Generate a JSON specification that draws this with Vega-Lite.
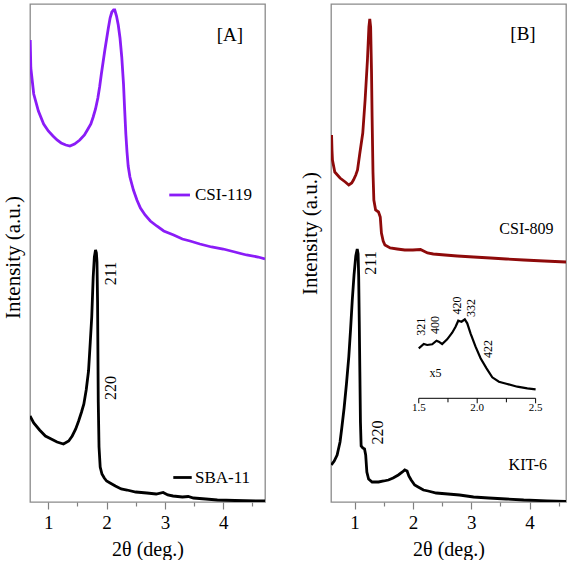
{
  "$schema": "https://vega.github.io/schema/vega-lite/v6.json",
  "padding": {"left": 1, "top": 3, "right": 0, "bottom": 0},
  "bounds": "flush",
  "spacing": 66,
  "config": {
    "view": {"stroke": "#8a8a8a", "strokeWidth": 1.3},
    "font": "Liberation Serif",
    "axis": {"grid": false, "domain": false, "labelFont": "Liberation Serif", "titleFont": "Liberation Serif", "labelColor": "#000", "titleColor": "#000", "titleFontWeight": "normal", "labelFontSize": 19, "titleFontSize": 20, "tickColor": "#808080", "tickWidth": 1.2},
    "text": {"font": "Liberation Serif", "color": "#000"}
  },
  "resolve": {"scale": {"color": "independent"}},
  "datasets": {
    "a_curves": [
      {"series": "CSI-119", "x": 0.69, "v": 462}, {"series": "CSI-119", "x": 0.70, "v": 434}, {"series": "CSI-119", "x": 0.75, "v": 408}, {"series": "CSI-119", "x": 0.83, "v": 391}, {"series": "CSI-119", "x": 0.92, "v": 378}, {"series": "CSI-119", "x": 1.00, "v": 371}, {"series": "CSI-119", "x": 1.08, "v": 366}, {"series": "CSI-119", "x": 1.15, "v": 362}, {"series": "CSI-119", "x": 1.22, "v": 359}, {"series": "CSI-119", "x": 1.30, "v": 357}, {"series": "CSI-119", "x": 1.37, "v": 356}, {"series": "CSI-119", "x": 1.45, "v": 358}, {"series": "CSI-119", "x": 1.54, "v": 362}, {"series": "CSI-119", "x": 1.62, "v": 367}, {"series": "CSI-119", "x": 1.68, "v": 373}, {"series": "CSI-119", "x": 1.73, "v": 378}, {"series": "CSI-119", "x": 1.77, "v": 385}, {"series": "CSI-119", "x": 1.81, "v": 393}, {"series": "CSI-119", "x": 1.85, "v": 404}, {"series": "CSI-119", "x": 1.88, "v": 415}, {"series": "CSI-119", "x": 1.91, "v": 428}, {"series": "CSI-119", "x": 1.94, "v": 440}, {"series": "CSI-119", "x": 1.97, "v": 452}, {"series": "CSI-119", "x": 2.00, "v": 463}, {"series": "CSI-119", "x": 2.03, "v": 474}, {"series": "CSI-119", "x": 2.06, "v": 484}, {"series": "CSI-119", "x": 2.09, "v": 490}, {"series": "CSI-119", "x": 2.12, "v": 492}, {"series": "CSI-119", "x": 2.14, "v": 492}, {"series": "CSI-119", "x": 2.17, "v": 486}, {"series": "CSI-119", "x": 2.20, "v": 477}, {"series": "CSI-119", "x": 2.23, "v": 464}, {"series": "CSI-119", "x": 2.26, "v": 445}, {"series": "CSI-119", "x": 2.29, "v": 418}, {"series": "CSI-119", "x": 2.31, "v": 392}, {"series": "CSI-119", "x": 2.33, "v": 368}, {"series": "CSI-119", "x": 2.35, "v": 350}, {"series": "CSI-119", "x": 2.37, "v": 336}, {"series": "CSI-119", "x": 2.40, "v": 325}, {"series": "CSI-119", "x": 2.46, "v": 312}, {"series": "CSI-119", "x": 2.52, "v": 302}, {"series": "CSI-119", "x": 2.58, "v": 294}, {"series": "CSI-119", "x": 2.66, "v": 287}, {"series": "CSI-119", "x": 2.75, "v": 281}, {"series": "CSI-119", "x": 2.86, "v": 276}, {"series": "CSI-119", "x": 2.98, "v": 271}, {"series": "CSI-119", "x": 3.15, "v": 267}, {"series": "CSI-119", "x": 3.30, "v": 263}, {"series": "CSI-119", "x": 3.43, "v": 261}, {"series": "CSI-119", "x": 3.60, "v": 258}, {"series": "CSI-119", "x": 3.80, "v": 255}, {"series": "CSI-119", "x": 4.00, "v": 253}, {"series": "CSI-119", "x": 4.20, "v": 250}, {"series": "CSI-119", "x": 4.40, "v": 247}, {"series": "CSI-119", "x": 4.60, "v": 245}, {"series": "CSI-119", "x": 4.717, "v": 243},
      {"series": "SBA-11", "x": 0.686, "v": 86}, {"series": "SBA-11", "x": 0.75, "v": 79}, {"series": "SBA-11", "x": 0.85, "v": 72}, {"series": "SBA-11", "x": 0.95, "v": 66}, {"series": "SBA-11", "x": 1.05, "v": 63}, {"series": "SBA-11", "x": 1.15, "v": 60}, {"series": "SBA-11", "x": 1.26, "v": 58}, {"series": "SBA-11", "x": 1.35, "v": 61}, {"series": "SBA-11", "x": 1.41, "v": 66}, {"series": "SBA-11", "x": 1.47, "v": 73}, {"series": "SBA-11", "x": 1.52, "v": 81}, {"series": "SBA-11", "x": 1.57, "v": 90}, {"series": "SBA-11", "x": 1.61, "v": 98}, {"series": "SBA-11", "x": 1.65, "v": 112}, {"series": "SBA-11", "x": 1.69, "v": 131}, {"series": "SBA-11", "x": 1.72, "v": 160}, {"series": "SBA-11", "x": 1.745, "v": 185}, {"series": "SBA-11", "x": 1.77, "v": 225}, {"series": "SBA-11", "x": 1.79, "v": 245}, {"series": "SBA-11", "x": 1.81, "v": 252}, {"series": "SBA-11", "x": 1.825, "v": 249}, {"series": "SBA-11", "x": 1.835, "v": 240}, {"series": "SBA-11", "x": 1.845, "v": 200}, {"series": "SBA-11", "x": 1.857, "v": 100}, {"series": "SBA-11", "x": 1.87, "v": 55}, {"series": "SBA-11", "x": 1.89, "v": 35}, {"series": "SBA-11", "x": 1.92, "v": 28}, {"series": "SBA-11", "x": 1.96, "v": 24}, {"series": "SBA-11", "x": 2.00, "v": 21}, {"series": "SBA-11", "x": 2.06, "v": 19}, {"series": "SBA-11", "x": 2.15, "v": 16}, {"series": "SBA-11", "x": 2.25, "v": 13}, {"series": "SBA-11", "x": 2.35, "v": 12}, {"series": "SBA-11", "x": 2.50, "v": 10}, {"series": "SBA-11", "x": 2.69, "v": 9}, {"series": "SBA-11", "x": 2.85, "v": 8}, {"series": "SBA-11", "x": 2.97, "v": 9.5}, {"series": "SBA-11", "x": 3.05, "v": 7}, {"series": "SBA-11", "x": 3.14, "v": 6}, {"series": "SBA-11", "x": 3.30, "v": 5}, {"series": "SBA-11", "x": 3.40, "v": 5.5}, {"series": "SBA-11", "x": 3.49, "v": 4}, {"series": "SBA-11", "x": 3.70, "v": 3}, {"series": "SBA-11", "x": 3.90, "v": 2}, {"series": "SBA-11", "x": 4.20, "v": 1.5}, {"series": "SBA-11", "x": 4.717, "v": 1}
    ],
    "a_legend": [
      {"series": "CSI-119", "x": 3.075, "x2": 3.43, "v": 307},
      {"series": "SBA-11", "x": 3.144, "x2": 3.46, "v": 24.5}
    ],
    "a_names": [
      {"x": 3.516, "v": 307, "label": "CSI-119"},
      {"x": 3.516, "v": 24.5, "label": "SBA-11"}
    ],
    "a_panel": [{"x": 3.889, "v": 467, "label": "[A]"}],
    "a_hkl": [
      {"x": 2.075, "v": 228.5, "label": "211"},
      {"x": 2.075, "v": 114, "label": "220"}
    ],
    "b_curves": [
      {"series": "CSI-809", "x": 0.605, "v": 367}, {"series": "CSI-809", "x": 0.612, "v": 352}, {"series": "CSI-809", "x": 0.62, "v": 342}, {"series": "CSI-809", "x": 0.66, "v": 330}, {"series": "CSI-809", "x": 0.75, "v": 324}, {"series": "CSI-809", "x": 0.84, "v": 320}, {"series": "CSI-809", "x": 0.90, "v": 317}, {"series": "CSI-809", "x": 0.95, "v": 319}, {"series": "CSI-809", "x": 0.98, "v": 322}, {"series": "CSI-809", "x": 1.02, "v": 327}, {"series": "CSI-809", "x": 1.05, "v": 332}, {"series": "CSI-809", "x": 1.09, "v": 349}, {"series": "CSI-809", "x": 1.14, "v": 369}, {"series": "CSI-809", "x": 1.18, "v": 402}, {"series": "CSI-809", "x": 1.22, "v": 442}, {"series": "CSI-809", "x": 1.245, "v": 475}, {"series": "CSI-809", "x": 1.26, "v": 483}, {"series": "CSI-809", "x": 1.275, "v": 475}, {"series": "CSI-809", "x": 1.29, "v": 430}, {"series": "CSI-809", "x": 1.30, "v": 385}, {"series": "CSI-809", "x": 1.315, "v": 330}, {"series": "CSI-809", "x": 1.33, "v": 302}, {"series": "CSI-809", "x": 1.36, "v": 292}, {"series": "CSI-809", "x": 1.41, "v": 290}, {"series": "CSI-809", "x": 1.44, "v": 285}, {"series": "CSI-809", "x": 1.46, "v": 269}, {"series": "CSI-809", "x": 1.49, "v": 261}, {"series": "CSI-809", "x": 1.52, "v": 257}, {"series": "CSI-809", "x": 1.61, "v": 254}, {"series": "CSI-809", "x": 1.73, "v": 253}, {"series": "CSI-809", "x": 1.86, "v": 252}, {"series": "CSI-809", "x": 2.00, "v": 252}, {"series": "CSI-809", "x": 2.13, "v": 252.5}, {"series": "CSI-809", "x": 2.25, "v": 249}, {"series": "CSI-809", "x": 2.35, "v": 248}, {"series": "CSI-809", "x": 2.55, "v": 247}, {"series": "CSI-809", "x": 2.76, "v": 246}, {"series": "CSI-809", "x": 3.04, "v": 245}, {"series": "CSI-809", "x": 3.33, "v": 244}, {"series": "CSI-809", "x": 3.60, "v": 243}, {"series": "CSI-809", "x": 3.90, "v": 242}, {"series": "CSI-809", "x": 4.25, "v": 241}, {"series": "CSI-809", "x": 4.626, "v": 240},
      {"series": "KIT-6", "x": 0.60, "v": 37}, {"series": "KIT-6", "x": 0.65, "v": 41}, {"series": "KIT-6", "x": 0.70, "v": 47}, {"series": "KIT-6", "x": 0.75, "v": 60}, {"series": "KIT-6", "x": 0.78, "v": 74}, {"series": "KIT-6", "x": 0.82, "v": 94}, {"series": "KIT-6", "x": 0.86, "v": 118}, {"series": "KIT-6", "x": 0.90, "v": 145}, {"series": "KIT-6", "x": 0.93, "v": 172}, {"series": "KIT-6", "x": 0.96, "v": 202}, {"series": "KIT-6", "x": 0.99, "v": 227}, {"series": "KIT-6", "x": 1.02, "v": 246}, {"series": "KIT-6", "x": 1.045, "v": 253}, {"series": "KIT-6", "x": 1.06, "v": 248}, {"series": "KIT-6", "x": 1.07, "v": 225}, {"series": "KIT-6", "x": 1.08, "v": 180}, {"series": "KIT-6", "x": 1.09, "v": 130}, {"series": "KIT-6", "x": 1.10, "v": 80}, {"series": "KIT-6", "x": 1.112, "v": 56}, {"series": "KIT-6", "x": 1.14, "v": 54}, {"series": "KIT-6", "x": 1.17, "v": 53}, {"series": "KIT-6", "x": 1.19, "v": 47}, {"series": "KIT-6", "x": 1.21, "v": 30}, {"series": "KIT-6", "x": 1.24, "v": 23}, {"series": "KIT-6", "x": 1.30, "v": 20}, {"series": "KIT-6", "x": 1.41, "v": 20}, {"series": "KIT-6", "x": 1.50, "v": 21}, {"series": "KIT-6", "x": 1.58, "v": 22}, {"series": "KIT-6", "x": 1.66, "v": 24}, {"series": "KIT-6", "x": 1.75, "v": 27}, {"series": "KIT-6", "x": 1.82, "v": 30}, {"series": "KIT-6", "x": 1.86, "v": 32}, {"series": "KIT-6", "x": 1.90, "v": 31}, {"series": "KIT-6", "x": 1.93, "v": 26}, {"series": "KIT-6", "x": 1.97, "v": 22}, {"series": "KIT-6", "x": 2.03, "v": 17}, {"series": "KIT-6", "x": 2.09, "v": 15}, {"series": "KIT-6", "x": 2.18, "v": 12}, {"series": "KIT-6", "x": 2.26, "v": 11}, {"series": "KIT-6", "x": 2.40, "v": 9}, {"series": "KIT-6", "x": 2.60, "v": 8}, {"series": "KIT-6", "x": 2.80, "v": 7}, {"series": "KIT-6", "x": 3.04, "v": 5}, {"series": "KIT-6", "x": 3.30, "v": 4}, {"series": "KIT-6", "x": 3.60, "v": 3}, {"series": "KIT-6", "x": 3.90, "v": 2}, {"series": "KIT-6", "x": 4.30, "v": 1.2}, {"series": "KIT-6", "x": 4.626, "v": 0.5}
    ],
    "b_names": [
      {"x": 3.482, "v": 272.7, "label": "CSI-809"},
      {"x": 3.641, "v": 37, "label": "KIT-6"}
    ],
    "b_panel": [{"x": 3.671, "v": 468, "label": "[B]"}],
    "b_hkl": [
      {"x": 1.278, "v": 239, "label": "211"},
      {"x": 1.401, "v": 69.5, "label": "220"}
    ],
    "inset_curve": [
      {"x": 1.50, "v": 153.7}, {"x": 1.543, "v": 158}, {"x": 1.572, "v": 157}, {"x": 1.615, "v": 157.7}, {"x": 1.652, "v": 161.3}, {"x": 1.671, "v": 160.3}, {"x": 1.70, "v": 158}, {"x": 1.743, "v": 162.7}, {"x": 1.786, "v": 169.3}, {"x": 1.815, "v": 175.3}, {"x": 1.838, "v": 181.3}, {"x": 1.866, "v": 180.3}, {"x": 1.894, "v": 182.7}, {"x": 1.915, "v": 178.7}, {"x": 1.943, "v": 168.7}, {"x": 1.986, "v": 155.3}, {"x": 2.029, "v": 143.7}, {"x": 2.08, "v": 133.7}, {"x": 2.129, "v": 124.7}, {"x": 2.186, "v": 120.3}, {"x": 2.257, "v": 118}, {"x": 2.343, "v": 115.3}, {"x": 2.429, "v": 113.7}, {"x": 2.50, "v": 112.7}
    ],
    "inset_axis": [{"x": 1.5, "x2": 2.5, "v": 103.7}],
    "inset_ticks": [
      {"x": 1.5, "v": 103.7, "v2": 98.7}, {"x": 1.75, "v": 103.7, "v2": 99.7}, {"x": 2.0, "v": 103.7, "v2": 98.7}, {"x": 2.25, "v": 103.7, "v2": 99.7}, {"x": 2.5, "v": 103.7, "v2": 98.7}
    ],
    "inset_ticklabels": [
      {"x": 1.5, "v": 93.7, "label": "1.5"}, {"x": 2.0, "v": 93.7, "label": "2.0"}, {"x": 2.5, "v": 93.7, "label": "2.5"}
    ],
    "inset_hkl": [
      {"x": 1.521, "v": 175.3, "label": "321"}, {"x": 1.643, "v": 177, "label": "400"}, {"x": 1.829, "v": 196.4, "label": "420"}, {"x": 1.943, "v": 194, "label": "332"}, {"x": 2.091, "v": 153, "label": "422"}
    ],
    "inset_note": [{"x": 1.643, "v": 129, "label": "x5"}]
  },
  "hconcat": [
    {
      "width": 235,
      "height": 498,
      "encoding": {
        "x": {"field": "x", "type": "quantitative", "scale": {"domain": [0.686, 4.717], "nice": false, "zero": false}, "title": "2θ (deg.)",
              "axis": {"values": [1, 1.5, 2, 2.5, 3, 3.5, 4, 4.5], "labelExpr": "datum.value % 1 === 0 ? format(datum.value, 'd') : ''", "tickSize": {"condition": {"test": "datum.value % 1 === 0", "value": 7}, "value": 4}, "labelPadding": 4, "titlePadding": 7, "labelFont": "Liberation Serif", "titleFont": "Liberation Serif"}},
        "y": {"field": "v", "type": "quantitative", "scale": {"domain": [0, 498], "nice": false, "zero": false}, "title": "Intensity (a.u.)",
              "axis": {"labels": false, "ticks": false, "titleFontSize": 21, "titlePadding": 7, "titleY": 253, "titleFont": "Liberation Serif"}}
      },
      "layer": [
        {"data": {"name": "a_curves"}, "mark": {"type": "line", "strokeWidth": 2.8, "clip": true},
         "encoding": {"color": {"field": "series", "type": "nominal", "scale": {"domain": ["CSI-119", "SBA-11"], "range": ["#8a1cf7", "#000000"]}, "legend": null}}},
        {"data": {"name": "a_legend"}, "mark": {"type": "rule", "strokeWidth": 2.8},
         "encoding": {"x2": {"field": "x2"}, "color": {"field": "series", "type": "nominal", "scale": {"domain": ["CSI-119", "SBA-11"], "range": ["#8a1cf7", "#000000"]}, "legend": null}}},
        {"data": {"name": "a_names"}, "mark": {"type": "text", "align": "left", "baseline": "middle", "fontSize": 17, "font": "Liberation Serif"},
         "encoding": {"text": {"field": "label"}}},
        {"data": {"name": "a_panel"}, "mark": {"type": "text", "align": "left", "baseline": "middle", "fontSize": 19, "font": "Liberation Serif"},
         "encoding": {"text": {"field": "label"}}},
        {"data": {"name": "a_hkl"}, "mark": {"type": "text", "align": "center", "baseline": "middle", "fontSize": 16, "angle": 270, "font": "Liberation Serif"},
         "encoding": {"text": {"field": "label"}}}
      ]
    },
    {
      "width": 235,
      "height": 498,
      "resolve": {"scale": {"x": "independent"}},
      "layer": [
        {
          "encoding": {
            "x": {"field": "x", "type": "quantitative", "scale": {"domain": [0.595, 4.626], "nice": false, "zero": false}, "title": "2θ (deg.)",
                  "axis": {"values": [1, 1.5, 2, 2.5, 3, 3.5, 4, 4.5], "labelExpr": "datum.value % 1 === 0 ? format(datum.value, 'd') : ''", "tickSize": {"condition": {"test": "datum.value % 1 === 0", "value": 7}, "value": 4}, "labelPadding": 4, "titlePadding": 7, "labelFont": "Liberation Serif", "titleFont": "Liberation Serif"}},
            "y": {"field": "v", "type": "quantitative", "scale": {"domain": [0, 498], "nice": false, "zero": false}, "title": "Intensity (a.u.)",
                  "axis": {"labels": false, "ticks": false, "titleFontSize": 21, "titlePadding": 11, "titleY": 229, "titleFont": "Liberation Serif"}}
          },
          "layer": [
            {"data": {"name": "b_curves"}, "mark": {"type": "line", "strokeWidth": 2.8, "clip": true},
             "encoding": {"color": {"field": "series", "type": "nominal", "scale": {"domain": ["CSI-809", "KIT-6"], "range": ["#8e0a0a", "#000000"]}, "legend": null}}},
            {"data": {"name": "b_names"}, "mark": {"type": "text", "align": "left", "baseline": "middle", "fontSize": 16, "font": "Liberation Serif"},
             "encoding": {"text": {"field": "label"}}},
            {"data": {"name": "b_panel"}, "mark": {"type": "text", "align": "left", "baseline": "middle", "fontSize": 19, "font": "Liberation Serif"},
             "encoding": {"text": {"field": "label"}}},
            {"data": {"name": "b_hkl"}, "mark": {"type": "text", "align": "center", "baseline": "middle", "fontSize": 16, "angle": 270, "font": "Liberation Serif"},
             "encoding": {"text": {"field": "label"}}}
          ]
        },
        {
          "encoding": {
            "x": {"field": "x", "type": "quantitative", "scale": {"domain": [0.749, 2.76], "nice": false, "zero": false}, "axis": null},
            "y": {"field": "v", "type": "quantitative", "scale": {"domain": [0, 498], "nice": false, "zero": false}, "title": "Intensity (a.u.)",
                  "axis": {"labels": false, "ticks": false, "titleFontSize": 21, "titlePadding": 11, "titleY": 229, "titleFont": "Liberation Serif"}}
          },
          "layer": [
            {"data": {"name": "inset_curve"}, "mark": {"type": "line", "strokeWidth": 2.2, "color": "#000000"}},
            {"data": {"name": "inset_axis"}, "mark": {"type": "rule", "strokeWidth": 1, "color": "#000000"},
             "encoding": {"x2": {"field": "x2"}}},
            {"data": {"name": "inset_ticks"}, "mark": {"type": "rule", "strokeWidth": 1, "color": "#000000"},
             "encoding": {"y2": {"field": "v2"}}},
            {"data": {"name": "inset_ticklabels"}, "mark": {"type": "text", "align": "center", "baseline": "middle", "fontSize": 11, "font": "Liberation Serif"},
             "encoding": {"text": {"field": "label"}}},
            {"data": {"name": "inset_hkl"}, "mark": {"type": "text", "align": "center", "baseline": "middle", "fontSize": 12, "angle": 270, "font": "Liberation Serif"},
             "encoding": {"text": {"field": "label"}}},
            {"data": {"name": "inset_note"}, "mark": {"type": "text", "align": "center", "baseline": "middle", "fontSize": 12, "font": "Liberation Serif"},
             "encoding": {"text": {"field": "label"}}}
          ]
        }
      ]
    }
  ]
}
